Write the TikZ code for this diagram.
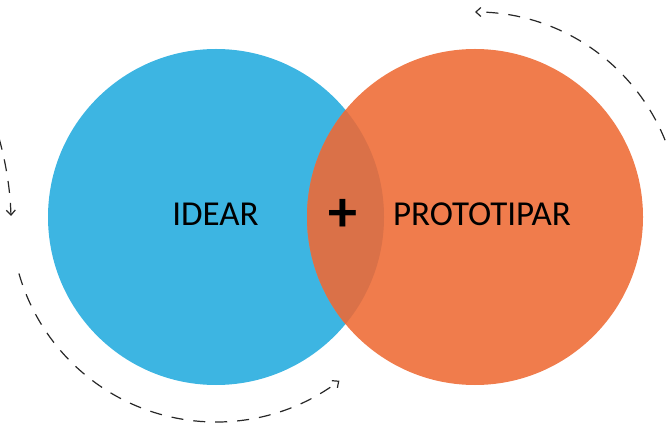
\documentclass[tikz,border=0pt]{standalone}
\usepackage{fontspec}
\setmainfont{Carlito}
\usetikzlibrary{arrows.meta}
\definecolor{cblue}{RGB}{61,181,226}
\definecolor{corange}{RGB}{240,124,76}
\definecolor{clens}{RGB}{218,113,72}
\definecolor{cdash}{RGB}{40,40,40}
\begin{document}
\begin{tikzpicture}[x=1pt,y=1pt,
  cyc/.style={draw=cdash,line width=1.2pt,dash pattern=on 12pt off 10pt,-{Straight Barb[length=5pt,width=9pt]}},
  lbl/.style={font=\fontsize{35}{38}\selectfont,text=black,inner sep=0pt}]
\useasboundingbox (0,0) rectangle (668,423);
\coordinate (cb) at (216,206);
\coordinate (co) at (475,206);
\fill[cblue] (cb) circle[radius=168pt];
\fill[corange] (co) circle[radius=168pt];
\begin{scope}
  \clip (cb) circle[radius=168pt];
  \fill[clens] (co) circle[radius=168pt];
\end{scope}
\node[lbl] (idear) at (215.5,209) {IDEAR};
\node[lbl] (proto) at (482,209) {PROTOTIPAR};
\node[font=\fontsize{58}{58}\selectfont\bfseries,inner sep=0pt] (plus) at (343,208) {+};
% cycle arrows
\draw[cyc] ([shift={(22:205pt)}]co) arc[start angle=22,end angle=90,radius=205pt];
\draw[cyc] ([shift={(196:205pt)}]cb) arc[start angle=196,end angle=307,radius=205pt];
\coordinate (ls) at (-1,285);
\coordinate (le) at (11,207);
\draw[cyc] (ls) .. controls (5,263) and (10,238) .. (le);
\end{tikzpicture}
\end{document}
